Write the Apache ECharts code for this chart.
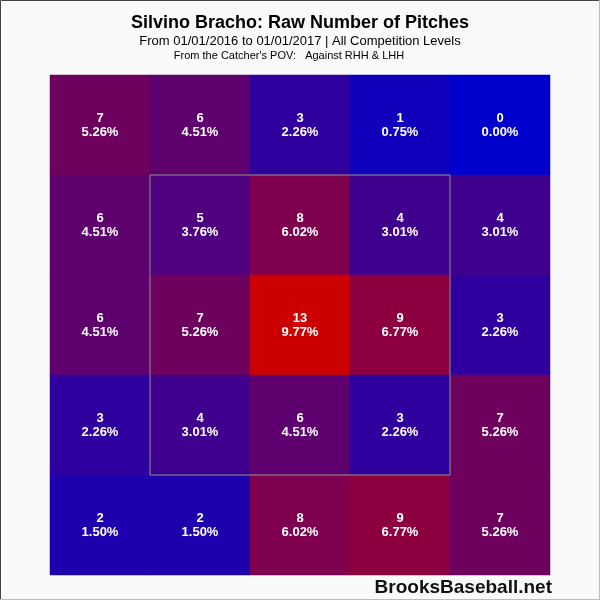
<!DOCTYPE html>
<html>
<head>
<meta charset="utf-8">
<script src="https://cdn.jsdelivr.net/npm/echarts@6/dist/echarts.min.js"></script>
<style>html,body{margin:0;padding:0;background:#fafafa;}#c{width:600px;height:600px;}</style>
</head>
<body>
<div id="c"></div>
<script>
const columns = ['c1','c2','c3','c4','c5'];
const rows = ['r1','r2','r3','r4','r5']; // top to bottom
const counts = [
  [7, 6, 3, 1, 0],
  [6, 5, 8, 4, 4],
  [6, 7, 13, 9, 3],
  [3, 4, 6, 3, 7],
  [2, 2, 8, 9, 7]
];
const pcts = [
  ['5.26%','4.51%','2.26%','0.75%','0.00%'],
  ['4.51%','3.76%','6.02%','3.01%','3.01%'],
  ['4.51%','5.26%','9.77%','6.77%','2.26%'],
  ['2.26%','3.01%','4.51%','2.26%','5.26%'],
  ['1.50%','1.50%','6.02%','6.77%','5.26%']
];
const zoneX = [1, 4, 4, 1, 1];
const zoneY = [1, 1, 4, 4, 1];

const heat = [];
for (let r = 0; r < rows.length; r++) {
  for (let c = 0; c < columns.length; c++) {
    heat.push({value: [c, r, counts[r][c]], pct: pcts[r][c]});
  }
}
const zone = zoneX.map((x, i) => [x, zoneY[i]]);

const chart = echarts.init(document.getElementById('c'));
chart.setOption({
  backgroundColor: '#fafafa',
  animation: false,
  grid: [
    {left: 50, top: 75, width: 500, height: 500},
    {left: 50, top: 75, width: 500, height: 500}
  ],
  xAxis: [
    {type: 'category', data: columns, gridIndex: 0, show: false},
    {type: 'value', min: 0, max: 5, gridIndex: 1, show: false}
  ],
  yAxis: [
    {type: 'category', data: rows, inverse: true, gridIndex: 0, show: false},
    {type: 'value', min: 0, max: 5, inverse: true, gridIndex: 1, show: false}
  ],
  visualMap: {
    show: false, min: 0, max: 13, dimension: 2, seriesIndex: 0,
    inRange: {color: ['#0000cc', '#cc0000']}
  },
  series: [
    {
      type: 'heatmap', xAxisIndex: 0, yAxisIndex: 0,
      data: heat,
      label: {
        show: true, color: '#ffffff', fontFamily: 'Liberation Sans, Arial, sans-serif',
        fontWeight: 'bold', fontSize: 13, lineHeight: 14,
        formatter: p => p.value[2] + '\n' + p.data.pct
      },
      itemStyle: {borderWidth: 0},
      emphasis: {disabled: true}
    },
    {
      type: 'line', xAxisIndex: 1, yAxisIndex: 1, data: zone,
      symbol: 'none', silent: true, z: 10,
      lineStyle: {color: '#8a9a8a', width: 1}
    }
  ],
  graphic: [
    {type: 'text', left: 'center', top: 14, style: {text: 'Silvino Bracho: Raw Number of Pitches', font: 'bold 18px "Liberation Sans", Arial, sans-serif', fill: '#000'}},
    {type: 'text', left: 'center', top: 35, style: {text: 'From 01/01/2016 to 01/01/2017 | All Competition Levels', font: '13px "Liberation Sans", Arial, sans-serif', fill: '#000'}},
    {type: 'text', x: 289, y: 50, style: {text: "From the Catcher's POV:   Against RHH & LHH", font: '11px "Liberation Sans", Arial, sans-serif', fill: '#000', align: 'center'}},
    {type: 'text', x: 552, y: 578, style: {text: 'BrooksBaseball.net', font: 'bold 19px "Liberation Sans", Arial, sans-serif', fill: '#111', align: 'right'}},
    {type: 'line', shape: {x1: 0.5, y1: 0.5, x2: 599.5, y2: 0.5}, style: {stroke: '#444', lineWidth: 1}},
    {type: 'line', shape: {x1: 0.5, y1: 0.5, x2: 0.5, y2: 599.5}, style: {stroke: '#444', lineWidth: 1}},
    {type: 'line', shape: {x1: 599.5, y1: 0, x2: 599.5, y2: 600}, style: {stroke: '#bbb', lineWidth: 1}},
    {type: 'line', shape: {x1: 0, y1: 599.5, x2: 600, y2: 599.5}, style: {stroke: '#bbb', lineWidth: 1}}
  ]
});
</script>
</body>
</html>
